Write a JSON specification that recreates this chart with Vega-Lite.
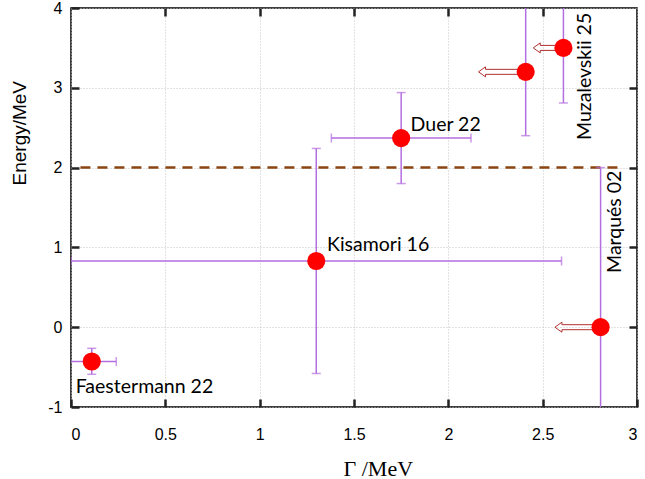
{
  "$schema": "https://vega.github.io/schema/vega-lite/v6.json",
  "width": 566,
  "height": 399,
  "autosize": {"type": "none"},
  "padding": {"left": 71, "top": 8, "right": 8, "bottom": 72},
  "background": "white",
  "config": {
    "view": {"stroke": "black", "strokeWidth": 1.5},
    "font": "Liberation Sans"
  },
  "datasets": {
    "pts": [
      {"name": "Faestermann 22", "g": 0.11, "e": -0.43, "glo": -0.01, "ghi": 0.24, "elo": -0.59, "ehi": -0.265},
      {"name": "Kisamori 16", "g": 1.3, "e": 0.83, "glo": 0, "ghi": 2.6, "elo": -0.58, "ehi": 2.24},
      {"name": "Duer 22", "g": 1.75, "e": 2.37, "glo": 1.38, "ghi": 2.12, "elo": 1.8, "ehi": 2.94},
      {"name": "limit", "g": 2.41, "e": 3.2, "elo": 2.4, "ehi": 4.6, "tip": 2.16},
      {"name": "Muzalevskii 25", "g": 2.61, "e": 3.5, "elo": 2.81, "ehi": 4.6, "tip": 2.45},
      {"name": "Marqués 02", "g": 2.807, "e": 0, "elo": -1.6, "ehi": 2.0, "tip": 2.565}
    ],
    "labels": [
      {"label": "Faestermann 22", "lx": 0.025, "ly": -0.825},
      {"label": "Kisamori 16", "lx": 1.357, "ly": 0.955},
      {"label": "Duer 22", "lx": 1.8, "ly": 2.46}
    ],
    "vlabels": [
      {"label": "Muzalevskii 25", "lx": 2.756, "ly": 2.346},
      {"label": "Marqués 02", "lx": 2.915, "ly": 0.68}
    ],
    "line": [{"a": 0.05, "b": 2.9, "e": 2}]
  },
  "resolve": {"axis": {"x": "independent", "y": "independent"}},
  "layer": [
    {
      "data": {"name": "line"},
      "mark": {"type": "rule", "color": "#8B4513", "strokeWidth": 2.5, "strokeDash": [10, 7]},
      "encoding": {
        "x": {"field": "a", "type": "quantitative", "scale": {"domain": [0, 3], "nice": false, "zero": false},
          "axis": {"orient": "top", "values": [0.5, 1, 1.5, 2, 2.5], "labels": false, "title": null, "domain": false, "grid": false, "ticks": true, "tickSize": -8, "tickColor": "#222222", "tickWidth": 2.5}},
        "x2": {"field": "b"},
        "y": {"field": "e", "type": "quantitative", "scale": {"domain": [-1, 4], "nice": false, "zero": false},
          "axis": {"orient": "right", "values": [0, 1, 2, 3], "labels": false, "title": null, "domain": false, "grid": false, "ticks": true, "tickSize": -8, "tickColor": "#222222", "tickWidth": 2.5}}
      }
    },
    {
      "data": {"name": "pts"},
      "mark": {"type": "errorbar", "clip": true, "color": "#b36ee0", "thickness": 1.5, "ticks": {"size": 9}},
      "encoding": {
        "x": {"field": "g", "type": "quantitative", "scale": {"domain": [0, 3], "nice": false, "zero": false}, "axis": null},
        "y": {"field": "elo", "type": "quantitative", "scale": {"domain": [-1, 4], "nice": false, "zero": false}, "axis": null},
        "y2": {"field": "ehi"}
      }
    },
    {
      "data": {"name": "pts"},
      "transform": [{"filter": "isValid(datum.glo)"}],
      "mark": {"type": "errorbar", "clip": true, "color": "#b36ee0", "thickness": 1.5, "ticks": {"size": 9}},
      "encoding": {
        "x": {"field": "glo", "type": "quantitative", "scale": {"domain": [0, 3], "nice": false, "zero": false}, "axis": null},
        "x2": {"field": "ghi"},
        "y": {"field": "e", "type": "quantitative", "scale": {"domain": [-1, 4], "nice": false, "zero": false}, "axis": null}
      }
    },
    {
      "data": {"name": "pts"},
      "transform": [{"filter": "isValid(datum.tip)"}],
      "mark": {"type": "rule", "color": "#b03030", "strokeWidth": 1, "yOffset": -2.5, "xOffset": 7},
      "encoding": {
        "x": {"field": "tip", "type": "quantitative", "scale": {"domain": [0, 3], "nice": false, "zero": false}, "axis": null},
        "x2": {"field": "g"},
        "y": {"field": "e", "type": "quantitative", "scale": {"domain": [-1, 4], "nice": false, "zero": false}, "axis": null}
      }
    },
    {
      "data": {"name": "pts"},
      "transform": [{"filter": "isValid(datum.tip)"}],
      "mark": {"type": "rule", "color": "#b03030", "strokeWidth": 1, "yOffset": 2.5, "xOffset": 7},
      "encoding": {
        "x": {"field": "tip", "type": "quantitative", "scale": {"domain": [0, 3], "nice": false, "zero": false}, "axis": null},
        "x2": {"field": "g"},
        "y": {"field": "e", "type": "quantitative", "scale": {"domain": [-1, 4], "nice": false, "zero": false}, "axis": null}
      }
    },
    {
      "data": {"name": "pts"},
      "transform": [{"filter": "isValid(datum.tip)"}],
      "mark": {"type": "point", "shape": "M0.7,-0.5L0.7,-1L-0.7,0L0.7,1L0.7,0.5", "size": 100, "filled": false, "color": "#b03030", "strokeWidth": 1, "opacity": 1, "xOffset": 3.5},
      "encoding": {
        "x": {"field": "tip", "type": "quantitative", "scale": {"domain": [0, 3], "nice": false, "zero": false}, "axis": null},
        "y": {"field": "e", "type": "quantitative", "scale": {"domain": [-1, 4], "nice": false, "zero": false}, "axis": null}
      }
    },
    {
      "data": {"name": "pts"},
      "mark": {"type": "point", "shape": "circle", "filled": true, "color": "#ff0000", "size": 330, "opacity": 1},
      "encoding": {
        "x": {"field": "g", "type": "quantitative", "scale": {"domain": [0, 3], "nice": false, "zero": false},
          "axis": {"orient": "bottom", "values": [0, 0.5, 1, 1.5, 2, 2.5, 3], "labelExpr": "'' + datum.value", "domain": false, "ticks": true, "tickSize": -8, "tickColor": "#222222", "tickWidth": 2.5,
            "grid": true, "gridColor": "#c4c4c4", "gridDash": [1, 2], "gridWidth": 1,
            "labelFont": "Liberation Sans", "labelFontSize": 16, "labelColor": "black", "labelPadding": 27,
            "title": "Γ /MeV", "titleFont": "Liberation Serif", "titleFontSize": 22, "titleFontWeight": "normal", "titleColor": "black", "titleX": 272, "titleY": 68, "titleBaseline": "alphabetic", "titleAlign": "left"}},
        "y": {"field": "e", "type": "quantitative", "scale": {"domain": [-1, 4], "nice": false, "zero": false},
          "axis": {"orient": "left", "values": [-1, 0, 1, 2, 3, 4], "labelExpr": "'' + datum.value", "domain": false, "ticks": true, "tickSize": -8, "tickColor": "#222222", "tickWidth": 2.5,
            "grid": true, "gridColor": "#c4c4c4", "gridDash": [1, 2], "gridWidth": 1,
            "labelFont": "Liberation Sans", "labelFontSize": 16, "labelColor": "black", "labelPadding": 17,
            "title": "Energy/MeV", "titleFont": "Liberation Sans", "titleFontSize": 19, "titleFontWeight": "normal", "titleColor": "black", "titleX": -46, "titleY": 177, "titleAngle": 270, "titleBaseline": "alphabetic", "titleAlign": "left"}}
      }
    },
    {
      "data": {"name": "labels"},
      "mark": {"type": "text", "font": "Lato", "fontSize": 19.5, "align": "left", "baseline": "alphabetic", "color": "black"},
      "encoding": {
        "x": {"field": "lx", "type": "quantitative", "scale": {"domain": [0, 3], "nice": false, "zero": false}, "axis": null},
        "y": {"field": "ly", "type": "quantitative", "scale": {"domain": [-1, 4], "nice": false, "zero": false}, "axis": null},
        "text": {"field": "label"}
      }
    },
    {
      "data": {"name": "vlabels"},
      "mark": {"type": "text", "font": "Lato", "fontSize": 19.5, "align": "left", "baseline": "alphabetic", "angle": 270, "color": "black"},
      "encoding": {
        "x": {"field": "lx", "type": "quantitative", "scale": {"domain": [0, 3], "nice": false, "zero": false}, "axis": null},
        "y": {"field": "ly", "type": "quantitative", "scale": {"domain": [-1, 4], "nice": false, "zero": false}, "axis": null},
        "text": {"field": "label"}
      }
    }
  ]
}
